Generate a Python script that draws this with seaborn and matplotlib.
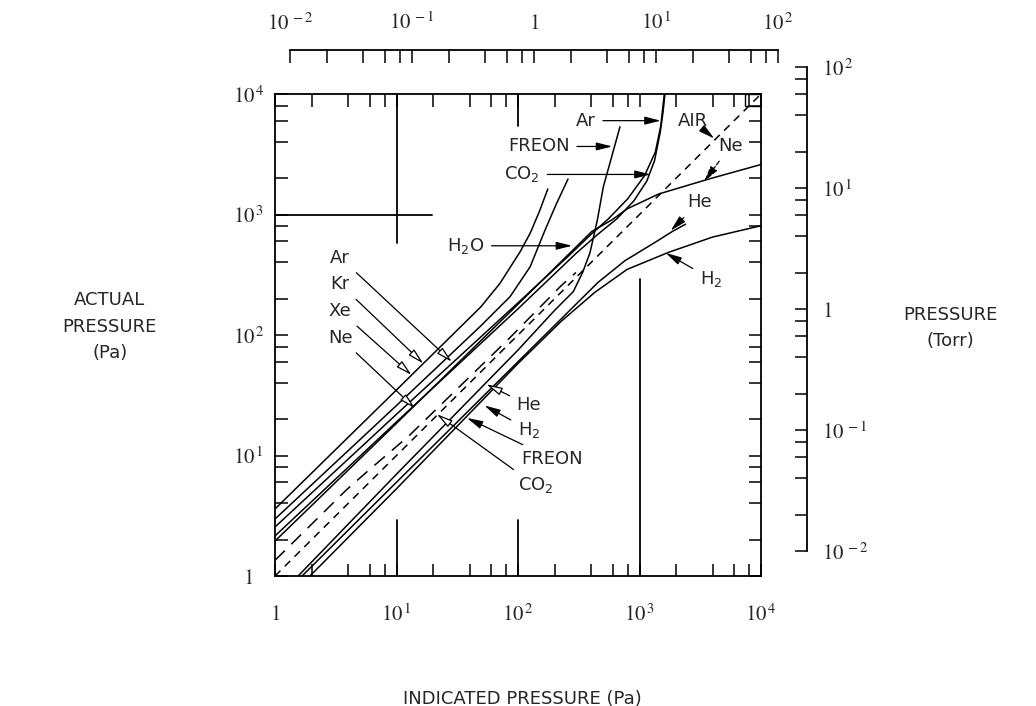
import matplotlib
matplotlib.use("Agg")
import matplotlib.pyplot as plt
import seaborn as sns
from matplotlib.patches import Rectangle
from matplotlib.ticker import LogLocator, NullFormatter

# indicated pressure (Pa) -> actual pressure (Pa)
kr_x = [1, 10, 49.4, 71, 104, 126, 150, 176]
kr_y = [3.6, 35, 171, 268, 490, 700, 1060, 1630]
xe_x = [1, 10, 49.4, 86, 126, 167, 205, 258]
xe_y = [2.97, 26, 119, 208, 369, 743, 1200, 1970]
ar_x = [1, 10, 100, 271, 396, 553, 800, 1100, 1350, 1496, 1600]
ar_y = [2.55, 22, 185, 470, 680, 918, 1350, 2100, 3300, 5420, 10000]
co2_x = [1, 10, 100, 300, 450, 650, 900, 1150, 1330, 1480, 1560, 1620]
co2_y = [2.15, 19, 165, 475, 680, 920, 1300, 1900, 2800, 4800, 7000, 10000]
ne_x = [1, 10, 100, 403, 590, 800, 1437, 3733, 10000]
ne_y = [1.95, 18.5, 180, 720, 900, 1120, 1479, 1972, 2600]
dash_x = [1, 3.88, 6.05, 12.6, 84, 227, 300]
dash_y = [1.35, 5.2, 7.7, 14.5, 93, 257, 330]
air_x = [1, 10000]
air_y = [1, 10000]
freon_x = [1.55, 10, 100, 200, 285, 340, 391, 450, 504, 600, 691]
freon_y = [1, 7, 75, 160, 229, 330, 480, 900, 1700, 3200, 5350]
he_x = [1.67, 10, 100, 250, 457, 760, 1346, 1850, 2388]
he_y = [1, 6, 60, 150, 274, 414, 588, 720, 830]
h2_x = [1.94, 10, 100, 227, 429, 790, 1740, 4000, 10000]
h2_y = [1, 5.3, 58, 130, 226, 350, 486, 650, 807]

pa_ticks = [1, 10, 100, 1000, 10000]
pa_labels = ["$1$", r"$10^{\,1}$", r"$10^{\,2}$", r"$10^{\,3}$", r"$10^{\,4}$"]
torr_ticks = [0.01, 0.1, 1, 10, 100]
torr_labels = [r"$10^{\,-2}$", r"$10^{\,-1}$", "$1$", r"$10^{\,1}$", r"$10^{\,2}$"]

# long tick lines drawn inside the frame
tick_lines = [
    ([10, 10], [575, 10000]),
    ([100, 100], [5420, 10000]),
    ([1, 19.6], [1000, 1000]),
    ([10, 10], [1, 2.9]),
    ([100, 100], [1, 2.9]),
    ([1000, 1000], [1, 292]),
]

# label, text position, arrow tip, head style, line style
notes = [
    ("Ar", (360, 6010), (1496, 6010), "solid", "-"),
    ("FREON", (148, 3670), (597, 3670), "solid", "-"),
    (r"$\mathregular{CO_2}$", (108, 2150), (1237, 2150), "solid", "-"),
    ("AIR", (2729, 6010), (4120, 4275), "solid", "-"),
    ("Ne", (5650, 3730), (3404, 1880), "solid", "--"),
    ("He", (3097, 1259), (1807, 735), "solid", "-"),
    (r"$\mathregular{H_2}$", (3864, 292), (1644, 480), "solid", "-"),
    (r"$\mathregular{H_2O}$", (36.9, 550), (279, 550), "solid", "-"),
    ("Ar", (3.44, 439), (28.5, 60), "hollow", "-"),
    ("Kr", (3.44, 264), (16.6, 58), "hollow", "-"),
    ("Xe", (3.44, 158), (13.3, 46.6), "hollow", "-"),
    ("Ne", (3.44, 95), (14.2, 24.6), "hollow", "-"),
    ("He", (123, 26.1), (55, 39), "hollow", "-"),
    (r"$\mathregular{H_2}$", (123, 16.3), (53, 26), "solid", "-"),
    ("FREON", (191, 9.4), (38, 20.5), "solid", "-"),
    (r"$\mathregular{CO_2}$", (139, 5.66), (21.5, 22), "hollow", "-"),
]

sns.set_theme(style="ticks")
plt.rcParams["font.family"] = ["DejaVu Sans"]
plt.rcParams["mathtext.fontset"] = "stix"

fig = plt.figure(figsize=(10.36, 7.06), dpi=100)
ax = fig.add_axes([275 / 1036, 130 / 706, 486 / 1036, 482 / 706])

curves = [
    (kr_x, kr_y, "-"), (xe_x, xe_y, "-"), (ar_x, ar_y, "-"), (co2_x, co2_y, "-"),
    (ne_x, ne_y, "-"), (dash_x, dash_y, (0, (9, 6))), (air_x, air_y, (0, (5, 4))),
    (freon_x, freon_y, "-"), (he_x, he_y, "-"), (h2_x, h2_y, "-"),
]
for xs, ys, ls in curves:
    sns.lineplot(x=xs, y=ys, ax=ax, color="black", lw=1.1, linestyle=ls,
                 sort=False, estimator=None)

for xs, ys in tick_lines:
    ax.plot(xs, ys, color="black", lw=1.3)
ax.add_patch(Rectangle((0.967, 0.975), 0.033, 0.025, transform=ax.transAxes,
                       fill=False, ec="black", lw=1.0))

ax.set_xscale("log")
ax.set_yscale("log")
ax.set_xlim(1, 1e4)
ax.set_ylim(1, 1e4)
ax.set_xticks(pa_ticks, labels=pa_labels)
ax.set_yticks(pa_ticks, labels=pa_labels)
for axis in (ax.xaxis, ax.yaxis):
    axis.set_minor_locator(LogLocator(base=10, subs=(2, 4, 6, 8)))
    axis.set_minor_formatter(NullFormatter())
ax.tick_params(which="both", direction="in", top=True, right=True, bottom=True,
               left=True, length=9, width=1.1, color="black")
ax.tick_params(axis="x", which="major", pad=20, labelsize=15)
ax.tick_params(axis="y", which="major", pad=19, labelsize=15)
for lab in ax.get_yticklabels():
    lab.set_ha("center")
for s in ax.spines.values():
    s.set_linewidth(1.3)
    s.set_color("black")

for text, txy, tip, head, ls in notes:
    fc = "white" if head == "hollow" else "black"
    ax.annotate(text, xy=tip, xytext=txy, ha="center", va="center", fontsize=13,
                arrowprops=dict(arrowstyle="-|>,head_length=0.8,head_width=0.2",
                                mutation_scale=12, fc=fc, ec="black", lw=0.9,
                                linestyle=ls, shrinkA=3, shrinkB=0))

ax.set_xlabel("INDICATED PRESSURE (Pa)", fontsize=13)
ax.xaxis.set_label_coords(0.508, -0.2365)
ax.set_ylabel("ACTUAL\nPRESSURE\n(Pa)", fontsize=13, rotation=0, ha="center",
              va="center", linespacing=1.6)
ax.yaxis.set_label_coords(-0.34, 0.517)

# Torr scale along the top
ax_top = fig.add_axes([290 / 1036, 656 / 706 - 0.02, 488 / 1036, 0.02])
ax_top.set_xscale("log")
ax_top.set_xlim(1e-2, 1e2)
ax_top.patch.set_visible(False)
for side in ("left", "right", "bottom"):
    ax_top.spines[side].set_visible(False)
ax_top.spines["top"].set_linewidth(1.3)
ax_top.spines["top"].set_color("black")
ax_top.set_yticks([])
ax_top.set_xticks(torr_ticks, labels=torr_labels)
ax_top.xaxis.set_minor_locator(LogLocator(base=10, subs=(2, 4, 6, 8)))
ax_top.xaxis.set_minor_formatter(NullFormatter())
ax_top.tick_params(axis="x", which="both", bottom=False, top=True, labelbottom=False,
                   labeltop=True, direction="in", length=9, width=1.1, color="black",
                   pad=12, labelsize=15)

# Torr scale on the right
ax_r = fig.add_axes([807 / 1036 - 0.02, 155 / 706, 0.02, 484 / 706])
ax_r.set_yscale("log")
ax_r.set_ylim(1e-2, 1e2)
ax_r.patch.set_visible(False)
for side in ("left", "top", "bottom"):
    ax_r.spines[side].set_visible(False)
ax_r.spines["right"].set_linewidth(1.3)
ax_r.spines["right"].set_color("black")
ax_r.set_xticks([])
ax_r.set_yticks(torr_ticks, labels=torr_labels)
ax_r.yaxis.set_minor_locator(LogLocator(base=10, subs=(2, 4, 6, 8)))
ax_r.yaxis.set_minor_formatter(NullFormatter())
ax_r.tick_params(axis="y", which="both", left=False, right=True, labelleft=False,
                 labelright=True, direction="in", length=9, width=1.1, color="black",
                 pad=11, labelsize=15)
ax_r.yaxis.set_label_position("right")
ax_r.set_ylabel("PRESSURE\n(Torr)", fontsize=13, rotation=0, ha="center",
                va="center", linespacing=1.6)
ax_r.yaxis.set_label_coords(7.9, 0.461)

fig.savefig("out.png", dpi=100)
